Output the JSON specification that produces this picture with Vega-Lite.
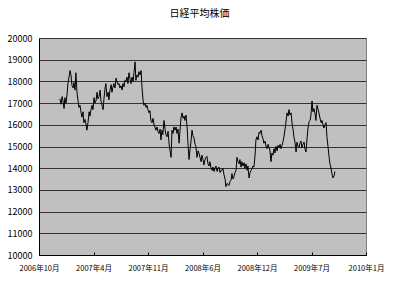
{
  "$schema": "https://vega.github.io/schema/vega-lite/v6.json",
  "autosize": "none",
  "width": 327,
  "height": 217,
  "padding": {"left": 39, "top": 38, "right": 34, "bottom": 28},
  "background": "white",
  "title": {"text": "日経平均株価", "font": "Noto Sans CJK JP", "fontSize": 10, "fontWeight": "normal", "color": "#000", "offset": 15, "anchor": "middle", "dx": -3},
  "config": {
    "view": {"fill": "#C0C0C0", "stroke": "#808080", "strokeWidth": 1},
    "axis": {"labelFont": "Noto Sans CJK JP", "labelColor": "#000", "domainColor": "#000", "tickColor": "#000"}
  },
  "data": {"values": [
    {"date":"2006-12-16","price":17200},{"date":"2006-12-20","price":16950},{"date":"2006-12-24","price":17300},{"date":"2006-12-27","price":17100},{"date":"2006-12-31","price":16750},
    {"date":"2007-01-03","price":17250},{"date":"2007-01-07","price":17000},{"date":"2007-01-11","price":17400},{"date":"2007-01-14","price":17900},{"date":"2007-01-18","price":18200},{"date":"2007-01-22","price":18500},{"date":"2007-01-25","price":18300},{"date":"2007-01-29","price":17800},
    {"date":"2007-02-02","price":17700},{"date":"2007-02-05","price":17950},{"date":"2007-02-09","price":17600},{"date":"2007-02-12","price":18400},{"date":"2007-02-16","price":17500},{"date":"2007-02-20","price":17100},{"date":"2007-02-23","price":16800},{"date":"2007-02-27","price":16900},
    {"date":"2007-03-03","price":16550},{"date":"2007-03-06","price":16350},{"date":"2007-03-10","price":16600},{"date":"2007-03-13","price":16100},{"date":"2007-03-17","price":16250},{"date":"2007-03-21","price":16000},{"date":"2007-03-24","price":15750},{"date":"2007-03-28","price":16100},
    {"date":"2007-04-01","price":16600},{"date":"2007-04-04","price":16400},{"date":"2007-04-08","price":16700},{"date":"2007-04-12","price":16900},{"date":"2007-04-15","price":16700},{"date":"2007-04-19","price":17250},{"date":"2007-04-22","price":17000},{"date":"2007-04-26","price":17100},{"date":"2007-04-30","price":17500},
    {"date":"2007-05-03","price":17200},{"date":"2007-05-07","price":17300},{"date":"2007-05-11","price":17600},{"date":"2007-05-14","price":17100},{"date":"2007-05-18","price":16900},{"date":"2007-05-22","price":16700},{"date":"2007-05-25","price":17200},{"date":"2007-05-29","price":17700},
    {"date":"2007-06-01","price":17900},{"date":"2007-06-05","price":17300},{"date":"2007-06-09","price":17500},{"date":"2007-06-12","price":17150},{"date":"2007-06-16","price":17600},{"date":"2007-06-20","price":17850},{"date":"2007-06-23","price":17500},{"date":"2007-06-27","price":17750},{"date":"2007-06-30","price":17900},
    {"date":"2007-07-04","price":17700},{"date":"2007-07-08","price":18150},{"date":"2007-07-11","price":18000},{"date":"2007-07-15","price":17850},{"date":"2007-07-19","price":17900},{"date":"2007-07-22","price":17700},{"date":"2007-07-26","price":17800},{"date":"2007-07-30","price":17600},
    {"date":"2007-08-02","price":17900},{"date":"2007-08-06","price":17750},{"date":"2007-08-09","price":18050},{"date":"2007-08-13","price":18000},{"date":"2007-08-17","price":18200},{"date":"2007-08-20","price":17900},{"date":"2007-08-24","price":18400},{"date":"2007-08-28","price":18100},{"date":"2007-08-31","price":17900},
    {"date":"2007-09-04","price":18200},{"date":"2007-09-08","price":18000},{"date":"2007-09-11","price":18400},{"date":"2007-09-15","price":18900},{"date":"2007-09-18","price":18050},{"date":"2007-09-22","price":18300},{"date":"2007-09-26","price":18200},{"date":"2007-09-29","price":18450},
    {"date":"2007-10-03","price":18300},{"date":"2007-10-07","price":18500},{"date":"2007-10-10","price":17750},{"date":"2007-10-14","price":17150},{"date":"2007-10-17","price":16900},{"date":"2007-10-21","price":17000},{"date":"2007-10-25","price":16800},{"date":"2007-10-28","price":16900},
    {"date":"2007-11-01","price":16700},{"date":"2007-11-05","price":16550},{"date":"2007-11-08","price":16650},{"date":"2007-11-12","price":16150},{"date":"2007-11-16","price":16100},{"date":"2007-11-19","price":16300},{"date":"2007-11-23","price":16000},{"date":"2007-11-26","price":15900},{"date":"2007-11-30","price":15750},
    {"date":"2007-12-04","price":15900},{"date":"2007-12-07","price":15700},{"date":"2007-12-11","price":15600},{"date":"2007-12-15","price":15800},{"date":"2007-12-18","price":15300},{"date":"2007-12-22","price":15750},{"date":"2007-12-25","price":15550},{"date":"2007-12-29","price":16200},
    {"date":"2008-01-02","price":15800},{"date":"2008-01-05","price":15550},{"date":"2008-01-09","price":15450},{"date":"2008-01-13","price":15700},{"date":"2008-01-16","price":15200},{"date":"2008-01-20","price":14800},{"date":"2008-01-24","price":14500},{"date":"2008-01-27","price":15750},{"date":"2008-01-31","price":15600},
    {"date":"2008-02-03","price":15900},{"date":"2008-02-07","price":15750},{"date":"2008-02-11","price":15900},{"date":"2008-02-14","price":15600},{"date":"2008-02-18","price":15800},{"date":"2008-02-22","price":15150},{"date":"2008-02-25","price":15700},{"date":"2008-02-29","price":16350},
    {"date":"2008-03-04","price":16550},{"date":"2008-03-07","price":16300},{"date":"2008-03-11","price":16400},{"date":"2008-03-14","price":16200},{"date":"2008-03-18","price":16450},{"date":"2008-03-22","price":15900},{"date":"2008-03-25","price":15200},{"date":"2008-03-29","price":14400},
    {"date":"2008-04-02","price":14900},{"date":"2008-04-05","price":15200},{"date":"2008-04-09","price":15750},{"date":"2008-04-12","price":15500},{"date":"2008-04-16","price":15400},{"date":"2008-04-20","price":15100},{"date":"2008-04-23","price":15000},{"date":"2008-04-27","price":14500},
    {"date":"2008-05-01","price":14800},{"date":"2008-05-04","price":14700},{"date":"2008-05-08","price":14500},{"date":"2008-05-12","price":14300},{"date":"2008-05-15","price":14600},{"date":"2008-05-19","price":14400},{"date":"2008-05-22","price":14150},{"date":"2008-05-26","price":14400},{"date":"2008-05-30","price":14500},
    {"date":"2008-06-02","price":14550},{"date":"2008-06-06","price":14200},{"date":"2008-06-10","price":14100},{"date":"2008-06-13","price":14300},{"date":"2008-06-17","price":14000},{"date":"2008-06-21","price":13900},{"date":"2008-06-24","price":14050},{"date":"2008-06-28","price":13850},
    {"date":"2008-07-01","price":14000},{"date":"2008-07-05","price":14100},{"date":"2008-07-09","price":13850},{"date":"2008-07-12","price":14000},{"date":"2008-07-16","price":14050},{"date":"2008-07-20","price":13800},{"date":"2008-07-23","price":13900},{"date":"2008-07-27","price":13900},{"date":"2008-07-30","price":14000},
    {"date":"2008-08-03","price":13700},{"date":"2008-08-07","price":13500},{"date":"2008-08-10","price":13150},{"date":"2008-08-14","price":13300},{"date":"2008-08-18","price":13250},{"date":"2008-08-21","price":13200},{"date":"2008-08-25","price":13400},{"date":"2008-08-29","price":13450},
    {"date":"2008-09-01","price":13750},{"date":"2008-09-05","price":13500},{"date":"2008-09-08","price":13600},{"date":"2008-09-12","price":13800},{"date":"2008-09-16","price":13900},{"date":"2008-09-19","price":14500},{"date":"2008-09-23","price":14300},{"date":"2008-09-27","price":14200},{"date":"2008-09-30","price":14400},
    {"date":"2008-10-04","price":14050},{"date":"2008-10-07","price":14300},{"date":"2008-10-11","price":14100},{"date":"2008-10-15","price":14250},{"date":"2008-10-18","price":14000},{"date":"2008-10-22","price":14200},{"date":"2008-10-26","price":13900},{"date":"2008-10-29","price":14100},
    {"date":"2008-11-02","price":13550},{"date":"2008-11-06","price":13800},{"date":"2008-11-09","price":13900},{"date":"2008-11-13","price":13950},{"date":"2008-11-16","price":14100},{"date":"2008-11-20","price":14050},{"date":"2008-11-24","price":14600},{"date":"2008-11-27","price":15300},
    {"date":"2008-12-01","price":15450},{"date":"2008-12-05","price":15300},{"date":"2008-12-08","price":15650},{"date":"2008-12-12","price":15600},{"date":"2008-12-16","price":15750},{"date":"2008-12-19","price":15500},{"date":"2008-12-23","price":15350},{"date":"2008-12-26","price":15150},{"date":"2008-12-30","price":15250},
    {"date":"2009-01-03","price":15000},{"date":"2009-01-06","price":14900},{"date":"2009-01-10","price":15100},{"date":"2009-01-14","price":14950},{"date":"2009-01-17","price":14800},{"date":"2009-01-21","price":14300},{"date":"2009-01-24","price":14700},{"date":"2009-01-28","price":14600},
    {"date":"2009-02-01","price":14900},{"date":"2009-02-04","price":14700},{"date":"2009-02-08","price":15000},{"date":"2009-02-12","price":14800},{"date":"2009-02-15","price":15050},{"date":"2009-02-19","price":14950},{"date":"2009-02-23","price":15100},{"date":"2009-02-26","price":14900},
    {"date":"2009-03-02","price":15050},{"date":"2009-03-05","price":15200},{"date":"2009-03-09","price":15450},{"date":"2009-03-13","price":15800},{"date":"2009-03-16","price":16100},{"date":"2009-03-20","price":16550},{"date":"2009-03-24","price":16400},{"date":"2009-03-27","price":16700},{"date":"2009-03-31","price":16450},
    {"date":"2009-04-04","price":16550},{"date":"2009-04-07","price":16100},{"date":"2009-04-11","price":15800},{"date":"2009-04-14","price":15450},{"date":"2009-04-18","price":15200},{"date":"2009-04-22","price":14750},{"date":"2009-04-25","price":15200},{"date":"2009-04-29","price":15000},
    {"date":"2009-05-03","price":14950},{"date":"2009-05-06","price":15150},{"date":"2009-05-10","price":15250},{"date":"2009-05-13","price":14950},{"date":"2009-05-17","price":15100},{"date":"2009-05-21","price":15200},{"date":"2009-05-24","price":14900},{"date":"2009-05-28","price":14750},
    {"date":"2009-06-01","price":15400},{"date":"2009-06-04","price":15800},{"date":"2009-06-08","price":16150},{"date":"2009-06-12","price":16200},{"date":"2009-06-15","price":16450},{"date":"2009-06-19","price":17100},{"date":"2009-06-22","price":16600},{"date":"2009-06-26","price":16750},{"date":"2009-06-30","price":16500},
    {"date":"2009-07-03","price":16200},{"date":"2009-07-07","price":16900},{"date":"2009-07-11","price":16700},{"date":"2009-07-14","price":16550},{"date":"2009-07-18","price":16300},{"date":"2009-07-22","price":16100},{"date":"2009-07-25","price":16200},{"date":"2009-07-29","price":16000},
    {"date":"2009-08-01","price":15850},{"date":"2009-08-05","price":16000},{"date":"2009-08-09","price":16100},{"date":"2009-08-12","price":15450},{"date":"2009-08-16","price":15000},{"date":"2009-08-20","price":14500},{"date":"2009-08-23","price":14200},{"date":"2009-08-27","price":14000},{"date":"2009-08-30","price":13750},
    {"date":"2009-09-03","price":13550},{"date":"2009-09-07","price":13650},{"date":"2009-09-10","price":13850}
  ]},
  "mark": {"type": "line", "color": "#000", "strokeWidth": 1},
  "encoding": {
    "x": {
      "field": "date", "type": "temporal",
      "scale": {"type": "utc", "domain": [{"year": 2006, "month": 10, "date": 1, "utc": true}, {"year": 2010, "month": 1, "date": 1, "utc": true}]},
      "axis": {
        "title": null, "grid": false, "tickSize": -3, "labelFontSize": 7.5, "labelPadding": 12,
        "values": [1159660800000, 1176768000000, 1193875200000, 1210982400000, 1228089600000, 1245196800000, 1262304000000],
        "labelExpr": "['2006年10月','2007年4月','2007年11月','2008年6月','2008年12月','2009年7月','2010年1月'][round((datum.value - 1159660800000) / 17107200000)]",
        "labelOverlap": false, "labelFlush": false
      }
    },
    "y": {
      "field": "price", "type": "quantitative",
      "scale": {"domain": [10000, 20000], "nice": false},
      "axis": {
        "title": null, "values": [10000, 11000, 12000, 13000, 14000, 15000, 16000, 17000, 18000, 19000, 20000],
        "ticks": false, "labelPadding": 7, "labelFontSize": 9, "format": "d",
        "grid": true, "gridColor": "#333", "gridWidth": 1
      }
    }
  }
}
